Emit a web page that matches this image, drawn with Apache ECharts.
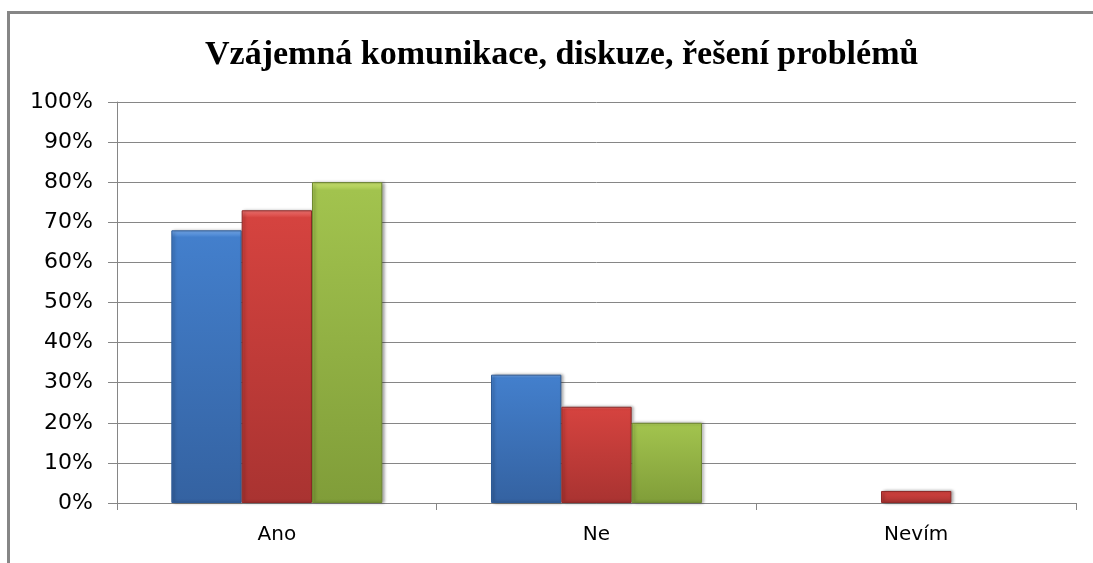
<!DOCTYPE html>
<html>
<head>
<meta charset="utf-8">
<script src="https://cdn.jsdelivr.net/npm/echarts@6/dist/echarts.min.js"></script>
<style>
  html, body { margin: 0; padding: 0; background: #fff; }
  #chart { width: 1093px; height: 563px; }
</style>
</head>
<body>
<div id="chart"></div>
<script>
// chart data
let titleText  = 'Vzájemná komunikace, diskuze, řešení problémů';
let categories = ['Ano', 'Ne', 'Nevím'];
let serie1     = [68, 32, 0];
let serie2     = [73, 24, 3];
let serie3     = [80, 20, 0];
let yTicks     = [0, 10, 20, 30, 40, 50, 60, 70, 80, 90, 100];

// bevel-ish fill: light top edge, darker toward the bottom
function bevel(top, mid, bottom) {
    return new echarts.graphic.LinearGradient(0, 0, 0, 1, [
        { offset: 0,    color: top },
        { offset: 0.025, color: mid },
        { offset: 1,    color: bottom }
    ]);
}

let styles = [
    { color: bevel('#76ABEE', '#437FCC', '#3462A1'), borderColor: '#2E5A94' },
    { color: bevel('#F27472', '#D5433F', '#A93331'), borderColor: '#8E2A28' },
    { color: bevel('#CDE571', '#A2C34E', '#809D39'), borderColor: '#6E8830' }
];

let chart = echarts.init(document.getElementById('chart'));

let option = {
    animation: false,
    backgroundColor: '#fff',
    title: {
        text: titleText,
        left: 200,
        top: 33,
        textStyle: {
            fontFamily: 'Liberation Serif',
            fontWeight: 'bold',
            fontSize: 34,
            color: '#000'
        }
    },
    graphic: [
        { type: 'line', shape: { x1: 8, y1: 12.5, x2: 1093, y2: 12.5 }, style: { stroke: '#868686', lineWidth: 3 } },
        { type: 'line', shape: { x1: 8.5, y1: 11, x2: 8.5, y2: 563 }, style: { stroke: '#868686', lineWidth: 3 } }
    ],
    grid: { left: 117, right: 17, top: 102, bottom: 60 },
    xAxis: {
        type: 'category',
        data: categories,
        axisLine: { lineStyle: { color: '#868686' } },
        axisTick: { show: true, length: 7, lineStyle: { color: '#868686' } },
        axisLabel: {
            margin: 22,
            fontFamily: 'DejaVu Sans',
            fontSize: 20,
            color: '#000'
        }
    },
    yAxis: {
        type: 'value',
        min: yTicks[0],
        max: yTicks[yTicks.length - 1],
        interval: 10,
        axisLine: { show: true, lineStyle: { color: '#868686' } },
        axisTick: { show: true, length: 9, lineStyle: { color: '#868686' } },
        splitLine: { lineStyle: { color: '#868686' } },
        axisLabel: {
            margin: 24,
            fontFamily: 'DejaVu Sans',
            fontSize: 22,
            color: '#000',
            formatter: '{value}%'
        }
    },
    series: [serie1, serie2, serie3].map((d, i) => ({
        type: 'bar',
        // zero-height bars are not drawn at all in the original
        data: d.map(v => v === 0 ? { value: 0, itemStyle: { opacity: 0 } } : v),
        barGap: '0%',
        barCategoryGap: '34%',
        itemStyle: {
            color: styles[i].color,
            borderColor: styles[i].borderColor,
            borderWidth: 1,
            shadowColor: 'rgba(0,0,0,0.35)',
            shadowBlur: 3,
            shadowOffsetX: 2,
            shadowOffsetY: 0
        }
    }))
};

chart.setOption(option);
</script>
</body>
</html>
